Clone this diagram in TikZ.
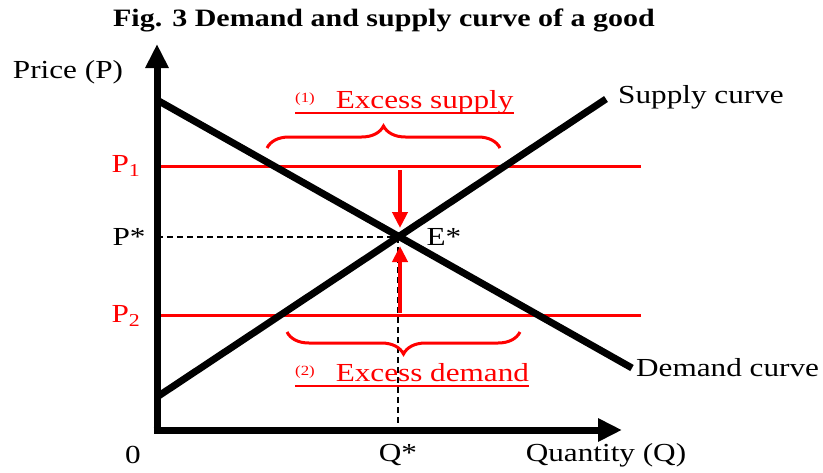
\documentclass[tikz,border=0pt]{standalone}
\usepackage{fontspec}
\setmainfont{Liberation Serif}[FakeStretch=1.2]
\usetikzlibrary{arrows.meta,decorations.pathreplacing}
\begin{document}
\begin{tikzpicture}[x=1pt,y=-1pt,
  lbl/.style={font=\fontsize{26}{29}\selectfont, inner sep=0pt},
  redlbl/.style={lbl, text=red},
  axis/.style={line width=7pt, -{Triangle[length=24pt,width=22pt]}},
  curve/.style={line width=7pt},
  priceline/.style={red, line width=3pt},
  guide/.style={dashed, line width=1.3pt, dash pattern=on 6pt off 4pt},
  movearrow/.style={red, line width=4.5pt, -{Triangle[length=16pt,width=15pt]}},
  bracestyle/.style={red, line width=3pt, decorate, decoration={brace, amplitude=22pt}},
  ulbl/.style={redlbl}
]
\useasboundingbox (0,0) rectangle (823,472);
% coordinates
\coordinate (O) at (157,430);
\coordinate (Ytop) at (157,44);
\coordinate (Xend) at (622,430);
\coordinate (Ds) at (157,100);
\coordinate (De) at (632,368);
\coordinate (Ss) at (157,397);
\coordinate (Se) at (606,99);
\coordinate (E) at (398,237);
\coordinate (P1s) at (157,166);
\coordinate (P1e) at (641,166);
\coordinate (P2s) at (157,315);
\coordinate (P2e) at (641,315);
\coordinate (Ps) at (157,237);
\coordinate (Qb) at (398,430);
\coordinate (A1s) at (400,170);
\coordinate (A1e) at (400,228);
\coordinate (A2s) at (400,313);
\coordinate (A2e) at (400,246);
\coordinate (B1a) at (267,148);
\coordinate (B1b) at (500,148);
\coordinate (B2a) at (287,332);
\coordinate (B2b) at (520,332);

% title
\node[font=\bfseries\fontsize{25}{28}\selectfont, inner sep=0pt] (title) at (384,20) {Fig. 3 Demand and supply curve of a good};

% guides
\draw[guide] (Ps) -- (E);
\draw[guide] (E) -- (Qb);

% price lines
\draw[priceline] (P1s) -- (P1e);
\draw[priceline] (P2s) -- (P2e);

% curves
\draw[curve] (Ds) -- (De);
\draw[curve] (Ss) -- (Se);

% axes
\draw[axis] ([yshift=3.5pt]O) -- (Ytop);
\draw[axis] ([xshift=-3.5pt]O) -- (Xend);

% movement arrows
\draw[movearrow] (A1s) -- (A1e);
\draw[movearrow] (A2s) -- (A2e);

% braces
\draw[bracestyle] (B1a) -- (B1b);
\draw[bracestyle] (B2b) -- (B2a);

% labels
\node[lbl] (price) at (68,72) {Price (P)};
\node[lbl, anchor=west] (supply) at (618,97) {Supply curve};
\node[lbl, anchor=west] (demand) at (636,368) {Demand curve};
\node[lbl] (estar) at (444,237) {E*};
\node[lbl] (pstar) at (129,237) {P*};
\node[redlbl] (p1) at (126,166) {P\textsubscript{1}};
\node[redlbl] (p2) at (126,316) {P\textsubscript{2}};
\node[lbl] (zero) at (133,455) {0};
\node[lbl] (qstar) at (398,455) {Q*};
\node[lbl] (qty) at (606,455) {Quantity (Q)};

\node[ulbl, anchor=base west] (es) at (295,108) {{\fontsize{14}{16}\selectfont\raisebox{6pt}{(1)}}\hspace{21pt}Excess supply};
\draw[red, line width=2pt] ([yshift=-5pt]es.base west) -- ([yshift=-5pt]es.base east);
\node[ulbl, anchor=base west] (ed) at (295,381) {{\fontsize{14}{16}\selectfont\raisebox{6pt}{(2)}}\hspace{21pt}Excess demand};
\draw[red, line width=2pt] ([yshift=-5pt]ed.base west) -- ([yshift=-5pt]ed.base east);
\end{tikzpicture}
\end{document}
